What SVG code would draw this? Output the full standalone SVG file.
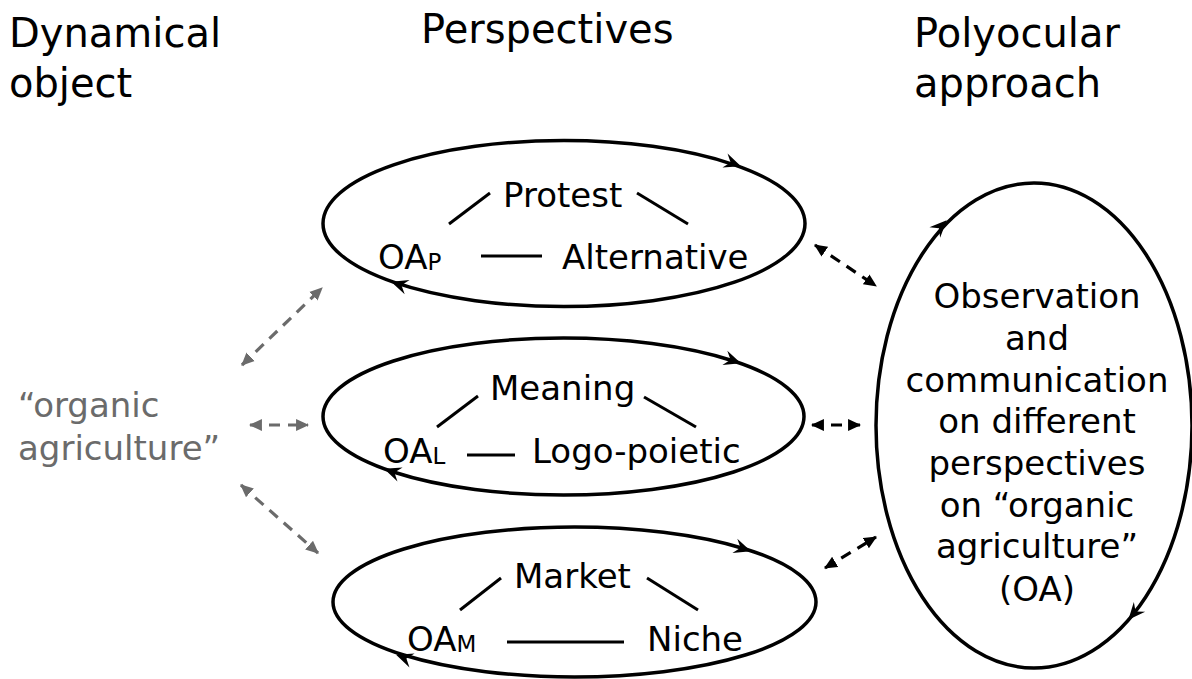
<svg xmlns="http://www.w3.org/2000/svg" xmlns:xlink="http://www.w3.org/1999/xlink" width="1192" height="679" viewBox="0 0 1192 679">
<style>
text{font-family:"DejaVu Sans",Verdana,sans-serif;fill:#000}
.h{font-size:40px}
.t{font-size:34px}
.sub{font-size:23px}
.g{fill:#6b6b6b}
.ell{fill:none;stroke:#000;stroke-width:3.5}
.ln{stroke:#000;stroke-width:3;fill:none}
.dg{stroke:#6b6b6b;stroke-width:3.2;stroke-dasharray:11 8;fill:none}
.dk{stroke:#000;stroke-width:3.2;stroke-dasharray:11 8;fill:none}
</style>
<defs>
<path id="ah" d="M1,0 L-16,-7.5 L-10,0 L-16,7.5 Z" fill="#000"/>
<marker id="mg" viewBox="0 0 12 12" refX="11" refY="6" markerWidth="13" markerHeight="13" markerUnits="userSpaceOnUse" orient="auto-start-reverse"><path d="M0,0.5 L12,6 L0,11.5 Z" fill="#6b6b6b"/></marker>
<marker id="mk" viewBox="0 0 12 12" refX="11" refY="6" markerWidth="13" markerHeight="13" markerUnits="userSpaceOnUse" orient="auto-start-reverse"><path d="M0,0.5 L12,6 L0,11.5 Z" fill="#000"/></marker>
</defs>
<rect width="1192" height="679" fill="#fff"/>
<g id="headings">
<text class="h" x="9" y="47">Dynamical</text>
<text class="h" x="9" y="97">object</text>
<text class="h" x="421" y="43">Perspectives</text>
<text class="h" x="914" y="47">Polyocular</text>
<text class="h" x="914" y="97">approach</text>
</g>
<g id="dynamical-object">
<text class="t g" x="18" y="417">“organic</text>
<text class="t g" x="18" y="460">agriculture”</text>
</g>
<g id="perspective-protest">
<ellipse class="ell" cx="564" cy="223.5" rx="241" ry="83"/>
<use xlink:href="#ah" href="#ah" transform="translate(740,166) rotate(20)"/>
<use xlink:href="#ah" href="#ah" transform="translate(392,282) rotate(199)"/>
<text class="t" x="503" y="207">Protest</text>
<text class="t" x="378" y="269">OA<tspan class="sub" dy="1">P</tspan></text>
<text class="t" x="562" y="269">Alternative</text>
<line class="ln" x1="449" y1="224" x2="490" y2="193"/>
<line class="ln" x1="637" y1="193" x2="688" y2="224"/>
<line class="ln" x1="481" y1="256" x2="542" y2="256"/>
</g>
<g id="perspective-meaning">
<ellipse class="ell" cx="563.5" cy="416.5" rx="240.5" ry="78.5"/>
<use xlink:href="#ah" href="#ah" transform="translate(740,363) rotate(19)"/>
<use xlink:href="#ah" href="#ah" transform="translate(385,469) rotate(200)"/>
<text class="t" x="490" y="400">Meaning</text>
<text class="t" x="383" y="463">OA<tspan class="sub" dy="1">L</tspan></text>
<text class="t" x="532" y="463">Logo-poietic</text>
<line class="ln" x1="437" y1="427" x2="478" y2="396"/>
<line class="ln" x1="644" y1="397" x2="696" y2="427"/>
<line class="ln" x1="467" y1="455" x2="515" y2="455"/>
</g>
<g id="perspective-market">
<ellipse class="ell" cx="574.5" cy="602" rx="241.5" ry="75"/>
<use xlink:href="#ah" href="#ah" transform="translate(750,551) rotate(19)"/>
<use xlink:href="#ah" href="#ah" transform="translate(397,655) rotate(200)"/>
<text class="t" x="514" y="588">Market</text>
<text class="t" x="407" y="651">OA<tspan class="sub" dy="1">M</tspan></text>
<text class="t" x="647" y="651">Niche</text>
<line class="ln" x1="460" y1="610" x2="501" y2="578"/>
<line class="ln" x1="647" y1="578" x2="698" y2="610"/>
<line class="ln" x1="507" y1="642" x2="624" y2="642"/>
</g>
<g id="polyocular">
<ellipse class="ell" cx="1034" cy="425.5" rx="158" ry="242.5"/>
<use xlink:href="#ah" href="#ah" transform="translate(946,221) rotate(-45.5)"/>
<use xlink:href="#ah" href="#ah" transform="translate(1129,619) rotate(131)"/>
<g text-anchor="middle">
<text class="t" x="1037" y="308">Observation</text>
<text class="t" x="1037" y="350">and</text>
<text class="t" x="1037" y="392">communication</text>
<text class="t" x="1037" y="433">on different</text>
<text class="t" x="1037" y="475">perspectives</text>
<text class="t" x="1037" y="517">on “organic</text>
<text class="t" x="1037" y="558">agriculture”</text>
<text class="t" x="1037" y="601">(OA)</text>
</g>
</g>
<g id="connectors">
<line class="dg" x1="242" y1="365" x2="322" y2="288" marker-start="url(#mg)" marker-end="url(#mg)"/>
<line class="dg" x1="250" y1="425" x2="308" y2="425" marker-start="url(#mg)" marker-end="url(#mg)"/>
<line class="dg" x1="241" y1="485" x2="318" y2="553" marker-start="url(#mg)" marker-end="url(#mg)"/>
<line class="dk" x1="815" y1="245" x2="876" y2="286" marker-start="url(#mk)" marker-end="url(#mk)"/>
<line class="dk" x1="812" y1="425" x2="860" y2="425" marker-start="url(#mk)" marker-end="url(#mk)"/>
<line class="dk" x1="825" y1="568" x2="876" y2="537" marker-start="url(#mk)" marker-end="url(#mk)"/>
</g>
</svg>
